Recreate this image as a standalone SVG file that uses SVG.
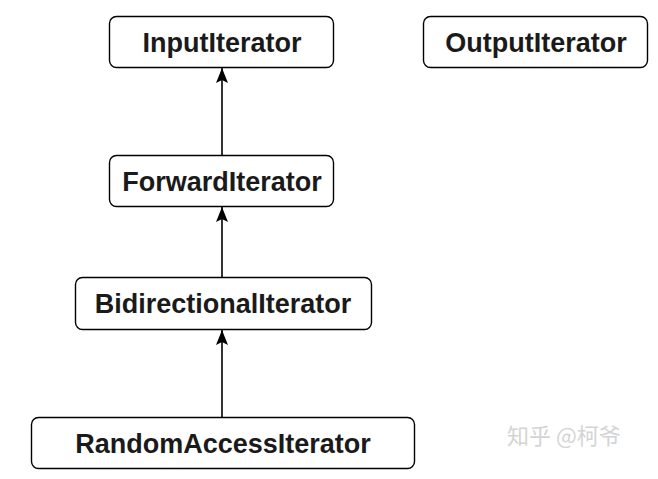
<svg xmlns="http://www.w3.org/2000/svg" width="658" height="479" viewBox="0 0 658 479">
<defs>
<style>
.box{fill:#fff;stroke:#000;stroke-width:1.4}
.lbl{font-family:"Liberation Sans",Arial,sans-serif;font-weight:bold;font-size:27px;fill:#1a1a1a;text-anchor:middle;dominant-baseline:central}
.edge{stroke:#000;stroke-width:1.6;fill:none}
.wm{font-family:"Noto Sans CJK SC",sans-serif;font-size:22px;fill:#d4d4d4}
</style>
<marker id="arr" viewBox="0 0 15 12" refX="15" refY="6" markerWidth="15" markerHeight="12" markerUnits="userSpaceOnUse" orient="auto">
<path d="M0,0 L15,6 L0,12 L3,6 Z" fill="#000"/>
</marker>
</defs>
<rect width="658" height="479" fill="#fff"/>
<g id="connectors">
<line class="edge" x1="222" y1="155" x2="222" y2="68" marker-end="url(#arr)"/>
<line class="edge" x1="222" y1="277" x2="222" y2="207" marker-end="url(#arr)"/>
<line class="edge" x1="222" y1="417" x2="222" y2="330" marker-end="url(#arr)"/>
</g>
<g id="InputIterator">
<rect class="box" x="109.5" y="16.5" width="224" height="51" rx="7"/>
<text class="lbl" x="222" y="43">InputIterator</text>
</g>
<g id="OutputIterator">
<rect class="box" x="423.5" y="16.5" width="224" height="51" rx="7"/>
<text class="lbl" x="536" y="43">OutputIterator</text>
</g>
<g id="ForwardIterator">
<rect class="box" x="109.5" y="155.5" width="224" height="51" rx="7"/>
<text class="lbl" x="222" y="182">ForwardIterator</text>
</g>
<g id="BidirectionalIterator">
<rect class="box" x="75.5" y="277.5" width="296" height="52" rx="7"/>
<text class="lbl" x="223" y="304">BidirectionalIterator</text>
</g>
<g id="RandomAccessIterator">
<rect class="box" x="31.5" y="417.5" width="383" height="51" rx="7"/>
<text class="lbl" x="223" y="444">RandomAccessIterator</text>
</g>
<text class="wm" x="507" y="444">知乎 @柯爷</text>
</svg>
